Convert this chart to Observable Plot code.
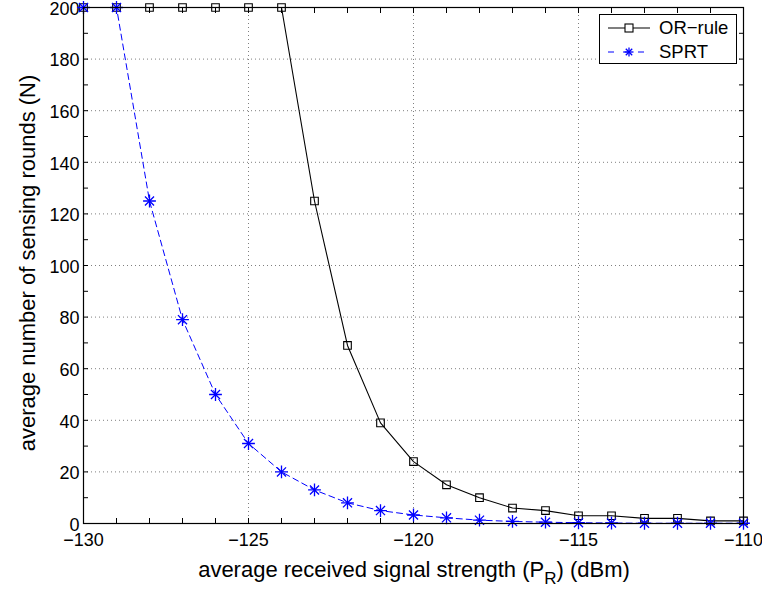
<!DOCTYPE html>
<html>
<head>
<meta charset="utf-8">
<script src="https://cdn.jsdelivr.net/npm/d3@7"></script>
<script src="https://cdn.jsdelivr.net/npm/@observablehq/plot@0.6"></script>
<style>
  html, body { margin: 0; padding: 0; background: #fff; }
  #wrap { position: relative; width: 762px; height: 592px; font-family: "Liberation Sans", Arial, sans-serif; }
  #legend { position: absolute; left: 599px; top: 14px; width: 136px; height: 48px; border: 1px solid #000; background: #fff; box-sizing: content-box; }
  .row { position: absolute; left: 0; height: 20px; display: flex; align-items: center; }
  .row span { font-size: 18.5px; color: #000; margin-left: 1px; white-space: nowrap; }
</style>
</head>
<body>
<div id="wrap"></div>
<script>
const power = [-130,-129,-128,-127,-126,-125,-124,-123,-122,-121,-120,-119,-118,-117,-116,-115,-114,-113,-112,-111,-110];
const orRule = [200,200,200,200,200,200,200,125,69,39,24,15,10,6,5,3,3,2,2,1,1];
const sprt = [200,200,125,79,50,31,20,13,8,5,3.3,2.2,1.3,0.8,0.5,0.3,0.2,0.1,0.1,0.1,0.1];
const xMajor = [-130,-125,-120,-115,-110];
const xMinor = [-130,-129,-128,-127,-126,-125,-124,-123,-122,-121,-120,-119,-118,-117,-116,-115,-114,-113,-112,-111,-110];
const yMajor = [0,20,40,60,80,100,120,140,160,180,200];
const yMinor = [0,10,20,30,40,50,60,70,80,90,100,110,120,130,140,150,160,170,180,190,200];
const seriesNames = ["OR\u2212rule", "SPRT"];

const orData = power.map((p, i) => ({x: p, y: orRule[i]}));
const sprtData = power.map((p, i) => ({x: p, y: sprt[i]}));
const fmt = d => String(d).replace("-", "\u2212");
const font = "Liberation Sans, Arial, sans-serif";

const chart = Plot.plot({
  width: 762,
  height: 592,
  marginLeft: 83,
  marginRight: 19,
  marginTop: 7,
  marginBottom: 69,
  style: {fontFamily: font, background: "#fff", color: "#000", overflow: "visible"},
  x: {domain: [-130, -110]},
  y: {domain: [0, 200]},
  marks: [
    Plot.gridX(xMajor.slice(1, -1), {stroke: "#000", strokeOpacity: 0.5, strokeDasharray: "1,3"}),
    Plot.gridY(yMajor.slice(1, -1), {stroke: "#000", strokeOpacity: 0.5, strokeDasharray: "1,3"}),
    Plot.axisX(xMinor, {anchor: "bottom", tickSize: -5, tickFormat: () => "", label: null}),
    Plot.axisX(xMinor, {anchor: "top", tickSize: -5, tickFormat: () => "", label: null}),
    Plot.axisY(yMinor, {anchor: "left", tickSize: -5, tickFormat: () => "", label: null}),
    Plot.axisY(yMinor, {anchor: "right", tickSize: -5, tickFormat: () => "", label: null}),
    Plot.axisX(xMajor, {anchor: "bottom", tickSize: 0, tickPadding: 10, tickFormat: fmt, fontSize: 18, label: null}),
    Plot.axisY(yMajor, {anchor: "left", tickSize: 0, tickPadding: 4, dy: 1.5, tickFormat: fmt, fontSize: 18, label: null}),
    Plot.line(sprtData, {x: "x", y: "y", stroke: "#0000ff", strokeWidth: 1, strokeDasharray: "6,4"}),
    Plot.line(orData, {x: "x", y: "y", stroke: "#000", strokeWidth: 1.1}),
    Plot.dot(orData, {x: "x", y: "y", symbol: "square", r: 4.3, stroke: "#000", strokeWidth: 1.1, fill: "none"}),
    Plot.dot(sprtData, {x: "x", y: "y", symbol: "plus", r: 4.2, stroke: "#0000ff", strokeWidth: 1.3}),
    Plot.dot(sprtData, {x: "x", y: "y", symbol: "times", r: 4.2, stroke: "#0000ff", strokeWidth: 1.3}),
    Plot.frame({stroke: "#000", strokeWidth: 1.2})
  ]
});

const wrap = document.getElementById("wrap");
wrap.appendChild(chart);

const svg = d3.select(chart);
// x axis label with subscript
const xl = svg.append("text")
  .attr("x", 414).attr("y", 577)
  .attr("text-anchor", "middle")
  .attr("font-family", font).attr("font-size", 22).attr("fill", "#000");
xl.append("tspan").text("average received signal strength (P");
xl.append("tspan").attr("dy", 7).attr("font-size", 17).text("R");
xl.append("tspan").attr("dy", -7).text(") (dBm)");
// y axis label
svg.append("text")
  .attr("transform", `translate(27,263) rotate(-90)`)
  .attr("text-anchor", "middle").attr("dy", "0.35em")
  .attr("font-family", font).attr("font-size", 22).attr("fill", "#000")
  .text("average number of sensing rounds (N)");

// legend
const legend = document.createElement("div");
legend.id = "legend";
legend.innerHTML = `
  <div class="row" style="top:3px">
    <svg width="50" height="20" style="margin-left:8px"><line x1="0" x2="42" y1="10" y2="10" stroke="#000" stroke-width="1.1"/><rect x="17" y="6" width="8" height="8" fill="#fff" stroke="#000" stroke-width="1.1"/></svg>
    <span>${seriesNames[0]}</span>
  </div>
  <div class="row" style="top:27px">
    <svg width="50" height="20" style="margin-left:8px"><line x1="0" x2="42" y1="10" y2="10" stroke="#0000ff" stroke-width="1" stroke-dasharray="6,9"/>
      <g stroke="#0000ff" stroke-width="1.3"><line x1="21" x2="21" y1="5.5" y2="14.5"/><line x1="16.5" x2="25.5" y1="10" y2="10"/><line x1="17.8" x2="24.2" y1="6.8" y2="13.2"/><line x1="17.8" x2="24.2" y1="13.2" y2="6.8"/></g></svg>
    <span>${seriesNames[1]}</span>
  </div>`;
wrap.appendChild(legend);
</script>
</body>
</html>
